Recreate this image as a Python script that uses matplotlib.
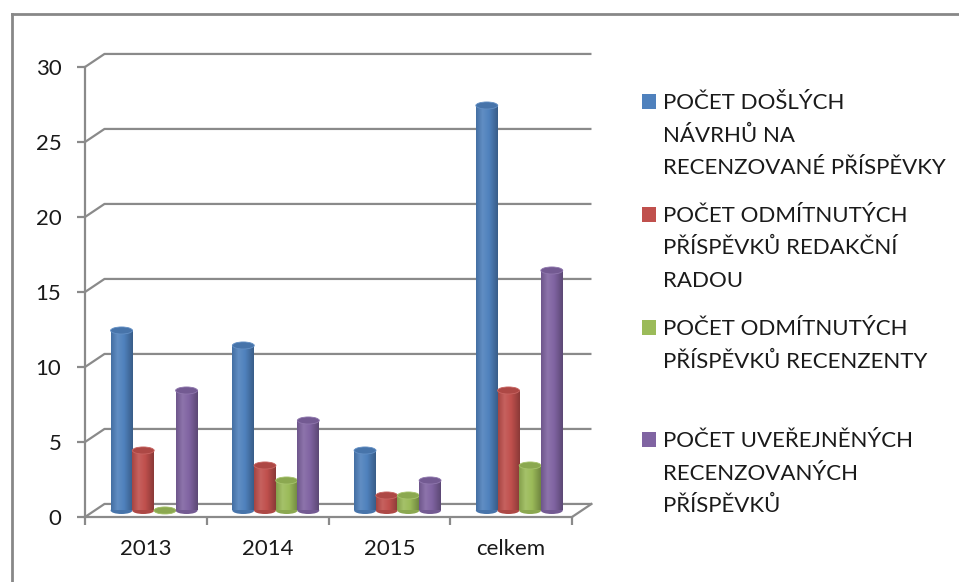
import numpy as np
import matplotlib
matplotlib.use("Agg")
import matplotlib.pyplot as plt
from matplotlib.colors import LinearSegmentedColormap, to_rgb
from matplotlib.patches import Ellipse, Rectangle
from matplotlib.lines import Line2D

plt.rcParams['font.family'] = ['Lato', 'DejaVu Sans']

# data
categories = ['2013', '2014', '2015', 'celkem']
series_names = [
    ['POČET DOŠLÝCH', 'NÁVRHŮ NA', 'RECENZOVANÉ PŘÍSPĚVKY'],
    ['POČET ODMÍTNUTÝCH', 'PŘÍSPĚVKŮ REDAKČNÍ', 'RADOU'],
    ['POČET ODMÍTNUTÝCH', 'PŘÍSPĚVKŮ RECENZENTY'],
    ['POČET UVEŘEJNĚNÝCH', 'RECENZOVANÝCH', 'PŘÍSPĚVKŮ'],
]
dosle = [12, 11, 4, 27]
odmitnute_redakce = [4, 3, 1, 8]
odmitnute_recenzenti = [0, 2, 1, 3]
uverejnene = [8, 6, 2, 16]
series = [dosle, odmitnute_redakce, odmitnute_recenzenti, uverejnene]
colors = ['#4F81BD', '#C0504D', '#9BBB59', '#8064A2']
yticks = [0, 5, 10, 15, 20, 25, 30]

W, H = 959, 582
fig = plt.figure(figsize=(W / 100, H / 100), dpi=100)
fig.patch.set_facecolor('white')

# front plane of the pseudo 3d plot, in pixel fractions
ax = fig.add_axes([85 / W, 65 / H, 487 / W, 450 / H])
ax.set_facecolor('none')

grid_c = '#8a8a8a'
depth_x = 0.16   # depth offset in category units
depth_y = 0.87   # depth offset in value units
n = len(categories)

# back wall gridlines + left side wall
for v in yticks:
    ax.plot([0, depth_x, n + depth_x], [v, v + depth_y, v + depth_y],
            color=grid_c, lw=1.6, zorder=1, clip_on=False, solid_capstyle='butt')
# floor right edge
ax.plot([n, n + depth_x], [0, depth_y], color=grid_c, lw=1.6, zorder=1, clip_on=False)


def lighten(c, f):
    c = np.array(to_rgb(c))
    return tuple(c + (1 - c) * f)


def darken(c, f):
    return tuple(np.array(to_rgb(c)) * f)


bar_w = 0.18
step = 0.178
ell_h = 0.47
base = depth_y / 2
grad = np.linspace(0, 1, 80).reshape(1, -1)

for k, (vals, col) in enumerate(zip(series, colors)):
    cmap = LinearSegmentedColormap.from_list(
        'cyl%d' % k,
        [(0, darken(col, 0.86)), (0.3, lighten(col, 0.1)),
         (0.6, to_rgb(col)), (1, darken(col, 0.72))])
    for i, v in enumerate(vals):
        xc = i + 0.5 + depth_x * 0.42 + (k - 1.5) * step
        z = 3 + i * 0.01 + k * 0.1
        top = v + base
        ax.add_patch(Ellipse((xc, base), bar_w, ell_h, facecolor=darken(col, 0.9),
                             edgecolor='none', zorder=z, clip_on=False))
        if v > 0:
            ax.imshow(grad, extent=[xc - bar_w / 2, xc + bar_w / 2, base, top],
                      cmap=cmap, aspect='auto', interpolation='bilinear',
                      zorder=z + 0.001, clip_on=False)
        ax.add_patch(Ellipse((xc, top), bar_w, ell_h, facecolor=darken(col, 0.9),
                             edgecolor=lighten(col, 0.12), lw=0.6,
                             zorder=z + 0.002, clip_on=False))

ax.set_xlim(0, n)
ax.set_ylim(0, 30)

for s in ['top', 'right']:
    ax.spines[s].set_visible(False)
for s in ['left', 'bottom']:
    ax.spines[s].set_color(grid_c)
    ax.spines[s].set_linewidth(1.6)
    ax.spines[s].set_zorder(2)

ax.set_yticks(yticks)
ax.set_yticklabels([str(t) for t in yticks])
ax.tick_params(axis='y', length=6, width=1.6, color=grid_c, pad=11,
               labelsize=16, labelcolor='#1a1a1a')
ax.set_xticks(range(n + 1))
ax.set_xticklabels([])
ax.set_xticks([i + 0.5 for i in range(n)], minor=True)
ax.set_xticklabels(categories, minor=True)
ax.tick_params(axis='x', which='major', length=6, width=1.6, color=grid_c)
ax.tick_params(axis='x', which='minor', length=0, pad=16, labelsize=16,
               labelcolor='#1a1a1a')

# legend, drawn by hand to keep the uneven spacing of the original
first_base = [109, 222, 335, 447]
line_gap = 32.5
for names, col, yb in zip(series_names, colors, first_base):
    fig.patches.append(Rectangle((642 / W, 1 - yb / H), 14 / W, 15 / H,
                                 transform=fig.transFigure, facecolor=col,
                                 edgecolor='none'))
    for j, line in enumerate(names):
        fig.text(663 / W, 1 - (yb + j * line_gap) / H, line, fontsize=16,
                 color='#1a1a1a', va='baseline', ha='left')

# outer chart frame (left and top edges visible)
fig.add_artist(Line2D([11.5 / W, 11.5 / W], [0, 1 - 14 / H], color='#888888',
                      lw=2, transform=fig.transFigure))
fig.add_artist(Line2D([11.5 / W, 1], [1 - 14 / H, 1 - 14 / H], color='#888888',
                      lw=2, transform=fig.transFigure))

fig.savefig('out.png', dpi=100)
